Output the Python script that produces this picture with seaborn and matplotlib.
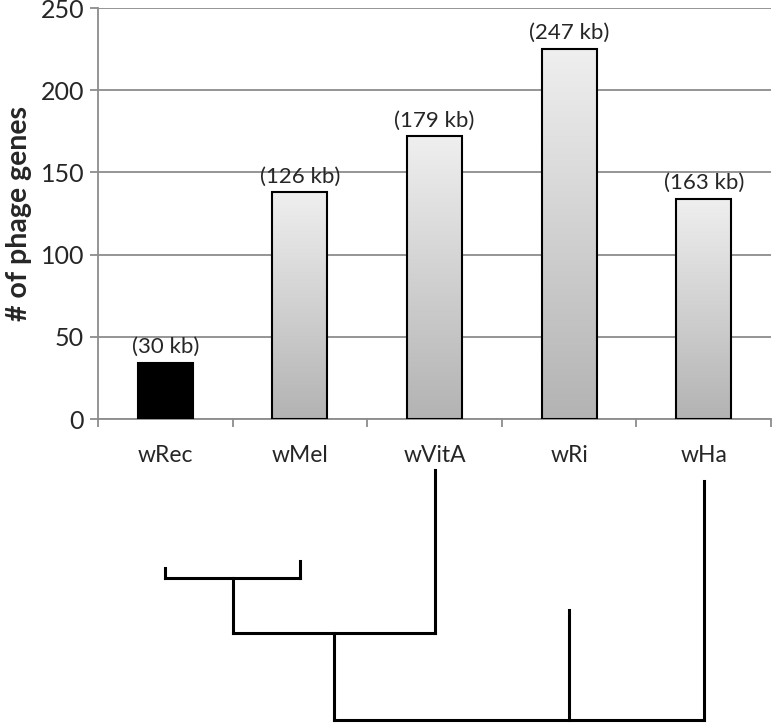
import numpy as np
import matplotlib
matplotlib.use('Agg')
import matplotlib.pyplot as plt
import seaborn as sns

strains = ['wRec', 'wMel', 'wVitA', 'wRi', 'wHa']
phage_genes = [34, 138, 172, 225, 134]
genome_sizes = ['(30 kb)', '(126 kb)', '(179 kb)', '(247 kb)', '(163 kb)']

# tree: tip heights, internal nodes as (children, height)
tip_heights = {'wRec': 152, 'wMel': 159, 'wVitA': 250, 'wRi': 110, 'wHa': 239}
clade_rec_mel = (['wRec', 'wMel'], 142)
clade_vita = ([clade_rec_mel, 'wVitA'], 87)
root = ([clade_vita, 'wRi', 'wHa'], 0)

sns.set_style('white')
plt.rcParams['font.family'] = ['Lato', 'DejaVu Sans']

fig = plt.figure(figsize=(7.73, 7.23), dpi=100)
ax = fig.add_axes([98 / 773, 1 - 419 / 723, 673 / 773, 411 / 723])

sns.barplot(x=strains, y=phage_genes, ax=ax, width=0.41,
            color='white', edgecolor='black', linewidth=1.5, zorder=3)

grad = np.linspace(0, 1, 256).reshape(-1, 1)
cmap = matplotlib.colors.LinearSegmentedColormap.from_list('g', ['#b3b3b3', '#efefef'])
for i, p in enumerate(ax.patches):
    if i == 0:
        p.set_facecolor('black')
        continue
    x0, y0 = p.get_x(), p.get_y()
    w, h = p.get_width(), p.get_height()
    im = ax.imshow(grad, extent=[x0, x0 + w, y0, y0 + h], origin='lower',
                   cmap=cmap, aspect='auto', zorder=2.9)
    im.set_clip_path(p)
    p.set_facecolor('none')

for i, (v, lab) in enumerate(zip(phage_genes, genome_sizes)):
    ax.text(i, v + 3.5, lab, ha='center', va='bottom', fontsize=16, zorder=4)

ax.set_xlim(-0.5, len(strains) - 0.5)
ax.set_ylim(0, 250)
ax.set_yticks(range(0, 251, 50))
ax.yaxis.grid(True, color='#8c8c8c', lw=1.3, zorder=0)
ax.set_axisbelow(True)
for s in ['top', 'right']:
    ax.spines[s].set_visible(False)
for s in ['left', 'bottom']:
    ax.spines[s].set_color('#8c8c8c')
    ax.spines[s].set_linewidth(1.3)
ax.tick_params(axis='y', left=True, length=6, color='#8c8c8c', width=1.3,
               labelsize=18, pad=4)
ax.set_xticks(range(len(strains)))
ax.set_xticklabels(strains)
ax.set_xticks(np.arange(-0.5, len(strains), 1.0), minor=True)
ax.tick_params(axis='x', which='major', length=0, labelsize=16.5, pad=19)
ax.tick_params(axis='x', which='minor', bottom=True, length=6,
               color='#8c8c8c', width=1.3)
ax.set_ylabel('# of phage genes', fontsize=20.5, fontweight='bold', labelpad=6)
ax.set_xlabel('')

# dendrogram below
tax = fig.add_axes([98 / 773, 0, 673 / 773, 258 / 723])
tax.set_xlim(-0.5, len(strains) - 0.5)
tax.set_ylim(-3, 255)
tax.axis('off')


def draw(node):
    if isinstance(node, str):
        return strains.index(node), tip_heights[node]
    children, h = node
    xs = []
    for c in children:
        cx, ch = draw(c)
        tax.plot([cx, cx], [h, ch], color='black', lw=2.2, solid_capstyle='projecting')
        xs.append(cx)
    tax.plot([min(xs), max(xs)], [h, h], color='black', lw=2.2, solid_capstyle='projecting')
    return (min(xs) + max(xs)) / 2, h


draw(root)

fig.savefig('out.png', dpi=100)
